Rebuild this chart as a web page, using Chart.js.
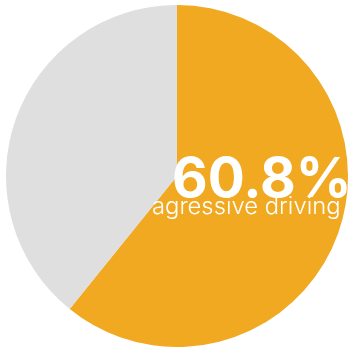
<!DOCTYPE html>
<html>
<head>
<meta charset="utf-8">
<script src="https://cdn.jsdelivr.net/npm/chart.js@4"></script>
<style>
  html, body { margin: 0; padding: 0; background: #fff; }
  #wrap { width: 348px; height: 347px; }
</style>
</head>
<body>
<div id="wrap"><canvas id="pieChart"></canvas></div>
<script>
const labels = ['agressive driving', 'other']
const values = [60.8, 39.2]
const colors = ['#f0a920', '#dfdfdf']

const bigLabel = values[0].toFixed(1) + '%'
const smallLabel = labels[0]

// draw the percentage and caption on top of the slice
const centerText = {
	id: 'centerText',
	afterDraw(chart) {
		const ctx = chart.ctx
		ctx.save()
		ctx.fillStyle = '#ffffff'
		ctx.textBaseline = 'alphabetic'
		ctx.textAlign = 'left'
		ctx.font = 'bold 55px Inter'
		ctx.fillText(bigLabel, 172, 197)
		ctx.font = '300 23.8px Inter'
		ctx.fillText(smallLabel, 152, 214)
		ctx.restore()
	}
}

var ctx = document.getElementById('pieChart')
var pieChart = new Chart(ctx, {
	type: 'pie',
	data: {
		labels: labels,
		datasets: [{
			data: values,
			backgroundColor: colors,
			borderWidth: 0,
		}]
	},
	options: {
		responsive: true,
		maintainAspectRatio: false,
		animation: false,
		layout: { padding: { left: 6, top: 5, right: 0, bottom: 0 } },
		plugins: {
			legend: { display: false },
			tooltip: { enabled: false },
		}
	},
	plugins: [centerText]
})
</script>
</body>
</html>
